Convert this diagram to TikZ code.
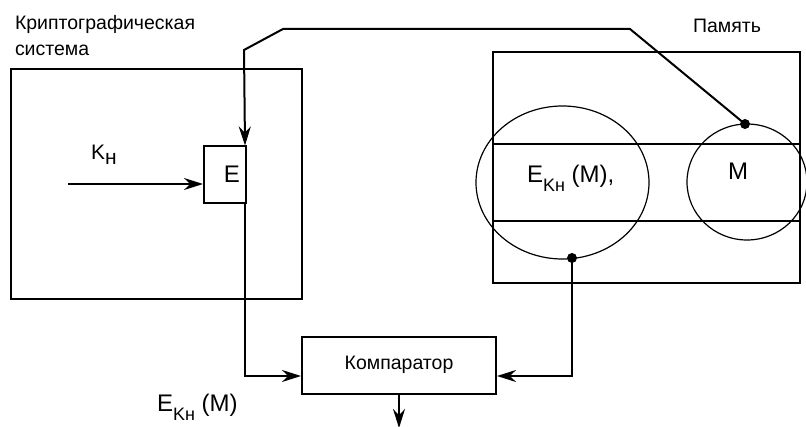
\documentclass[tikz,border=0pt]{standalone}
\usepackage{fontspec}
\setmainfont{Liberation Sans}
\usetikzlibrary{arrows.meta,positioning,calc,shapes.geometric}

\newcommand{\Ekh}{E\raisebox{-9pt}{\fontsize{18}{18}\selectfont Kн}}

\begin{document}
\begin{tikzpicture}[x=1pt, y=-1pt, >={Stealth[length=19pt,width=12pt]}, line width=2pt,
  every node/.style={align=center, font=\fontsize{19.5}{26}\selectfont},
  big/.style={font=\fontsize{24}{24}\selectfont}]
  \useasboundingbox (0,0) rectangle (806,427);
  \node (crypto) [rectangle, draw, minimum width=291, minimum height=230, inner sep=0] at (156.5,184) {};
  \node (cryptolabel) [anchor=north west, align=left, inner sep=0] at (14,14) {Криптографическая\\система};
  \node (enc) [rectangle, draw, minimum width=42, minimum height=57, inner sep=0, big] at (225,175) {\hspace*{14pt}\raisebox{2pt}{E}};
  \node (keylabel) [anchor=base west, inner sep=0, font=\fontsize{21}{21}\selectfont] at (90,160) {K\raisebox{-5pt}{н}};
  \coordinate (keyin) at (68,184);

  \node (memory) [rectangle, draw, minimum width=307, minimum height=231, inner sep=0] at (646.5,167.5) {};
  \node (memlabel) [anchor=base, inner sep=0] at (727,33) {Память};
  \node (store) [rectangle, draw, minimum width=307, minimum height=77, inner sep=0] at (646.5,182.5) {};
  \node (cipher) [ellipse, draw, line width=1.2pt, minimum width=173, minimum height=153, inner sep=0] at (562.5,182.5) {};
  \node (plain) [ellipse, draw, line width=1.2pt, minimum width=120, minimum height=116, inner sep=0] at (747,182) {};
  \node (ciphertext) [big, anchor=base west, inner sep=0] at (526,183) {\Ekh{} (M),};
  \node (plaintext) [big, anchor=base west, inner sep=0] at (727,180) {M};
  \coordinate (mdot) at (745,124);
  \coordinate (cdot) at (572,258);

  \node (comp) [rectangle, draw, minimum width=194, minimum height=57, inner sep=0] at (399,365.5) {\raisebox{6pt}{Компаратор}};
  \node (outlabel) [big, anchor=base west, inner sep=0] at (156,412) {\Ekh{} (M)};

  \draw[->] (keyin) -- (keyin -| enc.west);
  \draw[->] (mdot) -- (630,29) -- (283,29) -- (244,50) -- ($(enc.north east)+(-2,0)$);
  \draw[->] ($(enc.south east)+(-2,0)$) |- ($(comp.west)+(0,10.5)$);
  \draw[->] (cdot) |- ($(comp.east)+(0,10.5)$);
  \draw[->] (comp.south) -- ++(0,33);
  \fill (mdot) circle (5);
  \fill (cdot) circle (5);
\end{tikzpicture}
\end{document}
